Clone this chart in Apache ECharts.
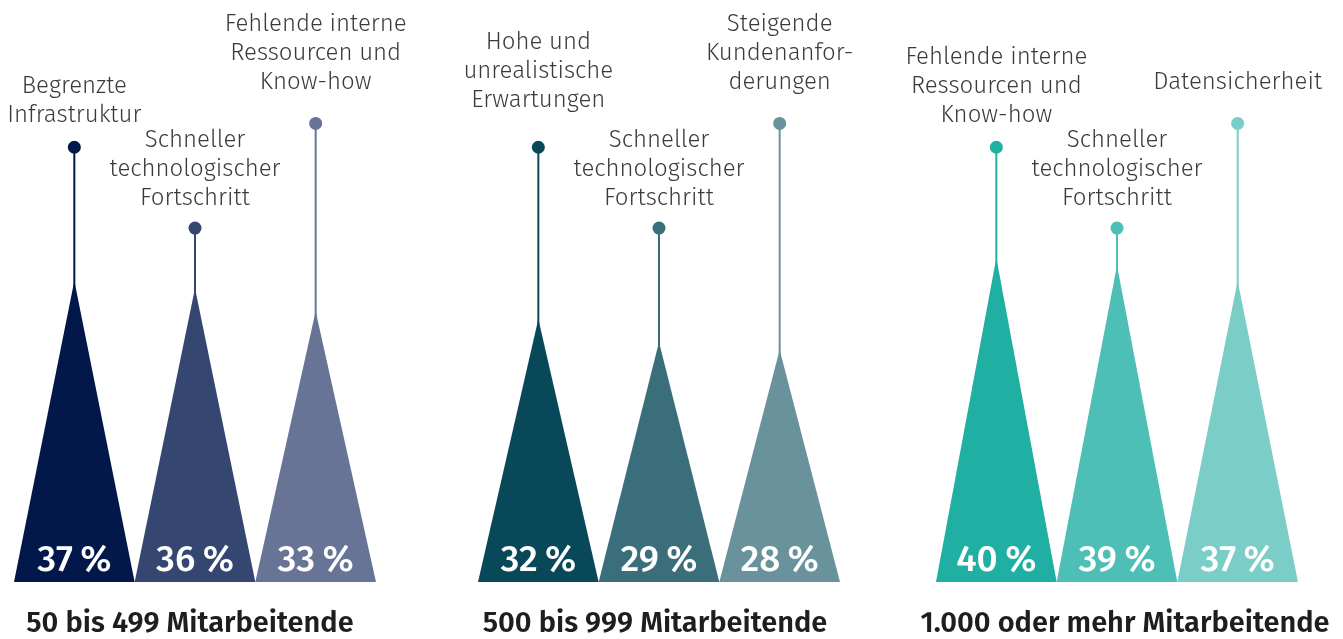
<!DOCTYPE html>
<html>
<head>
<meta charset="utf-8">
<script src="https://cdn.jsdelivr.net/npm/echarts@6/dist/echarts.min.js"></script>
<style>
html, body { margin: 0; background: #fff; }
#main { width: 1343px; height: 639px; }
</style>
</head>
<body>
<div id="main"></div>
<script>
window.addEventListener('load', () => {
    main()
})

// data
const groupNames = ['50 bis 499 Mitarbeitende', '500 bis 999 Mitarbeitende', '1.000 oder mehr Mitarbeitende']

const smallLabels = ['Begrenzte\nInfrastruktur', 'Schneller\ntechnologischer\nFortschritt', 'Fehlende interne\nRessourcen und\nKnow-how']
const smallValues = [37, 36, 33]

const midLabels = ['Hohe und\nunrealistische\nErwartungen', 'Schneller\ntechnologischer\nFortschritt', 'Steigende\nKundenanfor-\nderungen']
const midValues = [32, 29, 28]

const largeLabels = ['Fehlende interne\nRessourcen und\nKnow-how', 'Schneller\ntechnologischer\nFortschritt', 'Datensicherheit']
const largeValues = [40, 39, 37]

// layout / styles
const Y_MIN = -2.3
const Y_MAX = 73.6
const STEM_TOP = [54.4, 43.85, 57.5]          // dot level per slot, axis units
const LABEL_GAP = [[32, 30, 41], [47, 30, 41], [32, 30, 41]]
const GRID_LEFT = [14, 478, 936]
const TITLE_PAD = [[0, 10, 0, 0], [0, 8, 0, 0], [0, 0, 0, 16]]
const COLORS = [
    ['#02184a', '#354670', '#677496'],
    ['#094859', '#3a6e7b', '#6a929c'],
    ['#1fafa3', '#4dbfb6', '#7bcec7'],
]
const FONT = '"Fira Sans", "Noto Sans", sans-serif'

function makeRender(g, labels) {
    return (params, api) => {
        const i = api.value(0)
        const v = api.value(1)
        const base = api.coord([i, Y_MIN])
        const apex = api.coord([i, v])
        const dot = api.coord([i, STEM_TOP[i]])
        const w = api.size([1, 0])[0]
        const c = COLORS[g][i]
        return {
            type: 'group',
            children: [
                {
                    type: 'line',
                    shape: { x1: apex[0], y1: apex[1] + 20, x2: dot[0], y2: dot[1] },
                    style: { stroke: c, lineWidth: 2 }
                },
                {
                    type: 'circle',
                    shape: { cx: dot[0], cy: dot[1], r: 6.5 },
                    style: { fill: c }
                },
                {
                    type: 'polygon',
                    shape: { points: [[base[0] - w / 2, base[1]], [apex[0], apex[1]], [base[0] + w / 2, base[1]]] },
                    style: { fill: c }
                },
                {
                    type: 'text',
                    style: {
                        text: v + '\u2009%', x: base[0], y: base[1] - 21,
                        align: 'center', verticalAlign: 'middle',
                        fill: '#fff', fontSize: 37, fontWeight: 500, fontFamily: FONT
                    }
                },
                {
                    type: 'text',
                    style: {
                        text: labels[i], x: dot[0], y: dot[1] - LABEL_GAP[g][i] + 14.5,
                        align: 'center', verticalAlign: 'bottom', lineHeight: 29,
                        fill: '#3a3a3a', fontSize: 24, fontWeight: 300, fontFamily: FONT
                    }
                }
            ]
        }
    }
}

function main() {
    const chart = echarts.init(document.getElementById('main'), null, { renderer: 'canvas' })
    const labelSets = [smallLabels, midLabels, largeLabels]
    const valueSets = [smallValues, midValues, largeValues]

    const grid = GRID_LEFT.map(left => ({
        left, width: 362, top: 0, height: 582,
        containLabel: false, outerBoundsMode: 'none'
    }))
    const xAxis = labelSets.map((labels, g) => ({
        type: 'category',
        gridIndex: g,
        data: labels,
        axisLine: { show: false },
        axisTick: { show: false },
        axisLabel: { show: false },
        name: groupNames[g],
        nameLocation: 'middle',
        nameGap: 27,
        nameTextStyle: { fontSize: 29, fontWeight: 600, color: '#1e1e1e', fontFamily: FONT, padding: TITLE_PAD[g] }
    }))
    const yAxis = labelSets.map((_, g) => ({
        type: 'value', gridIndex: g, min: Y_MIN, max: Y_MAX, show: false
    }))
    const series = valueSets.map((values, g) => ({
        type: 'custom',
        xAxisIndex: g,
        yAxisIndex: g,
        clip: false,
        renderItem: makeRender(g, labelSets[g]),
        data: values.map((v, i) => [i, v])
    }))

    chart.setOption({
        animation: false,
        backgroundColor: '#fff',
        grid,
        xAxis,
        yAxis,
        series
    })
}
</script>
</body>
</html>
